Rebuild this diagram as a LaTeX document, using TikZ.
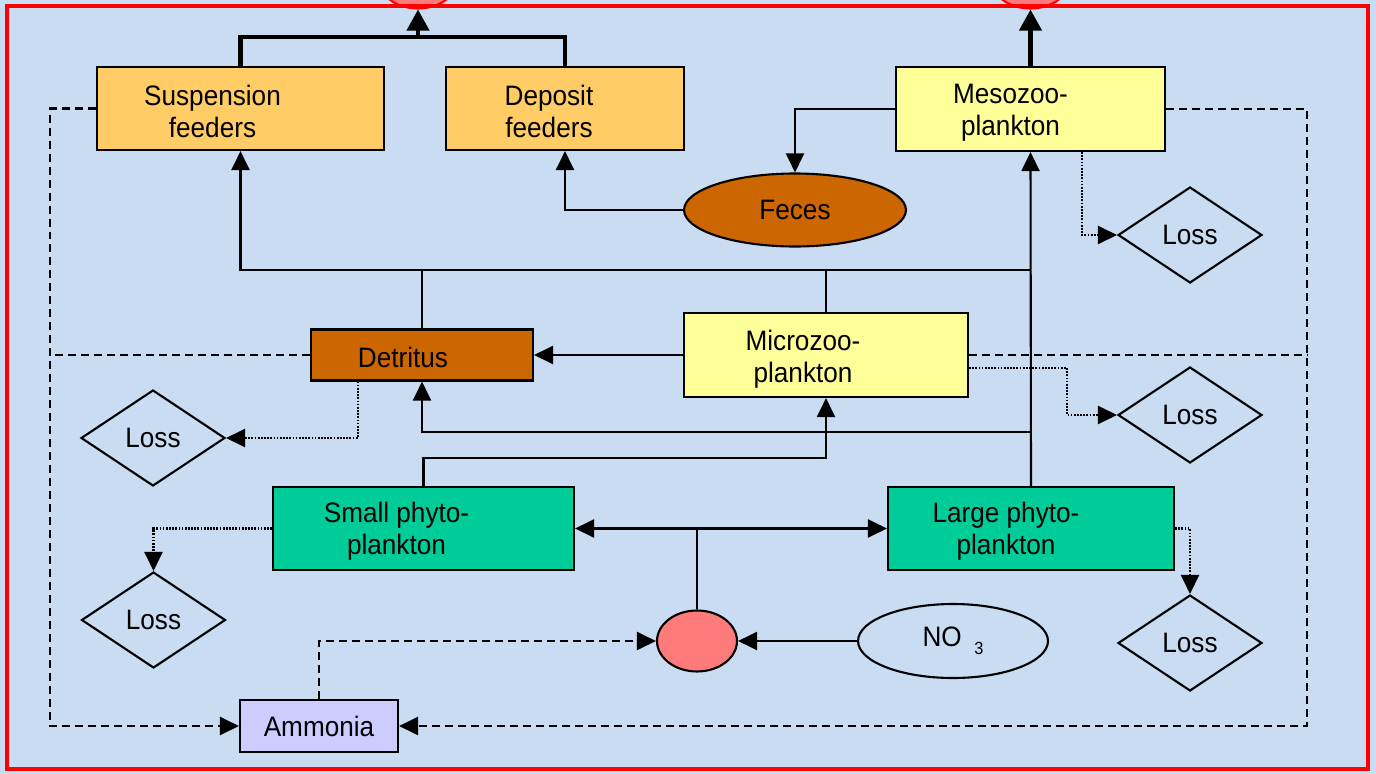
\documentclass[tikz,border=0pt]{standalone}
\usepackage{fontspec}
\setmainfont[FakeStretch=0.93]{Liberation Sans}
\usetikzlibrary{shapes,arrows.meta}

\definecolor{bgblue}{RGB}{202,220,241}
\definecolor{feedorange}{RGB}{255,204,102}
\definecolor{zooyellow}{RGB}{255,255,153}
\definecolor{detbrown}{RGB}{204,102,0}
\definecolor{phygreen}{RGB}{0,204,153}
\definecolor{ammlilac}{RGB}{204,204,255}
\definecolor{nutred}{RGB}{255,122,122}

\tikzset{
  box/.style={draw=black, line width=1.2pt, rectangle, inner sep=0pt},
  feeder/.style={box, fill=feedorange, minimum height=1.66cm},
  zoo/.style={box, fill=zooyellow, minimum height=1.68cm},
  phyto/.style={box, fill=phygreen, minimum height=1.66cm},
  loss/.style={draw=black, line width=1.2pt, diamond, inner sep=0pt,
    minimum width=2.88cm, minimum height=1.92cm, font=\fontsize{16}{18.2}\selectfont},
  txt/.style={font=\fontsize{16}{18.2}\selectfont, align=center},
  tip/.style={-{Triangle[length=0.38cm,width=0.36cm]}},
  link/.style={line width=1.2pt},
  flow/.style={link, tip},
  heavy/.style={line width=2.3pt},
  dline/.style={line width=1.2pt, dash pattern=on 0.16cm off 0.1cm},
  dflow/.style={dline, tip},
  dotflow/.style={line width=1.3pt, dash pattern=on 1pt off 0.8pt, tip},
}

\begin{document}
\begin{tikzpicture}[x=0.02cm, y=-0.02cm]
\useasboundingbox (0,0) rectangle (1376,774);
\clip (0,0) rectangle (1376,774);
\fill[bgblue] (0,0) rectangle (1376,774);

% sinks cut off at the top
\node[draw=red, line width=1.2pt, fill=nutred, ellipse, minimum width=1.6cm, minimum height=1.22cm] (topA) at (418,-22) {};
\node[draw=red, line width=1.2pt, fill=nutred, ellipse, minimum width=1.6cm, minimum height=1.22cm] (topB) at (1030.5,-22) {};

% boxes
\node[feeder, minimum width=5.74cm, label={[txt,xshift=-0.56cm,yshift=-0.06cm]center:{Suspension\\feeders}}] (susp) at (240.5,108.5) {};
\node[feeder, minimum width=4.76cm, label={[txt,xshift=-0.32cm,yshift=-0.06cm]center:{Deposit\\feeders}}] (depo) at (565,108.5) {};
\node[zoo, minimum width=5.38cm, label={[txt,xshift=-0.4cm,yshift=-0.08cm]center:{Mesozoo-\\plankton}}] (meso) at (1030.5,109) {};
\node[draw=black, line width=1.2pt, fill=detbrown, ellipse, minimum width=4.44cm, minimum height=1.46cm, txt] (feces) at (795,210) {Feces};
\node[box, fill=detbrown, minimum width=4.44cm, minimum height=1.02cm, label={[txt,xshift=-0.38cm,yshift=-0.04cm]center:Detritus}] (detr) at (422,355) {};
\node[zoo, minimum width=5.68cm, label={[txt,xshift=-0.46cm,yshift=-0.08cm]center:{Microzoo-\\plankton}}] (micro) at (826,355) {};
\node[phyto, minimum width=6.02cm, label={[txt,xshift=-0.54cm,yshift=-0.06cm]center:{Small phyto-\\plankton}}] (sphy) at (423.5,528.5) {};
\node[phyto, minimum width=5.72cm, label={[txt,xshift=-0.5cm,yshift=-0.06cm]center:{Large phyto-\\plankton}}] (lphy) at (1031,528.5) {};
\node[draw=black, line width=1.2pt, fill=nutred, ellipse, minimum width=1.6cm, minimum height=1.22cm] (nut) at (697,641) {};
\node[draw=black, line width=1.2pt, ellipse, minimum width=3.8cm, minimum height=1.48cm, txt] (no3) at (953,641) {NO\hspace{0.25cm}\raisebox{-0.16cm}{\fontsize{10}{12}\selectfont 3}};
\node[box, fill=ammlilac, minimum width=3.16cm, minimum height=1.04cm, txt] (amm) at (319,726) {Ammonia};

% losses
\node[loss] (lossA) at (1190,235) {Loss};
\node[loss] (lossB) at (1190,415) {Loss};
\node[loss] (lossC) at (153,438) {Loss};
\node[loss] (lossD) at (153.5,620) {Loss};
\node[loss] (lossE) at (1190,643) {Loss};

% helper rails
\coordinate (topj) at (0,37);
\coordinate (bus) at (0,270);
\coordinate (ret) at (0,432);
\coordinate (feed) at (0,458);
\coordinate (lft) at (50,0);
\coordinate (rgt) at (1307,0);

% grazing to the top
\draw[heavy] (susp.north) -- (susp.north |- topj) -- (depo.north |- topj) -- (depo.north);
\draw[heavy, -{Triangle[length=0.42cm,width=0.44cm]}] (topA |- topj) -- (topA.south);
\draw[heavy, -{Triangle[length=0.42cm,width=0.44cm]}] (meso.north) -- (topB.south);

% solid flows
\draw[flow] (meso.west) -| (feces.north);
\draw[flow] (feces.west) -| (depo.south);
\draw[flow] (lphy.north) -- (meso.south);
\draw[flow] (lphy.north |- bus) -| (susp.south);
\draw[link] (detr.north) -- (detr.north |- bus);
\draw[link] (micro.north) -- (micro.north |- bus);
\draw[flow] (micro.west) -- (detr.east);
\draw[flow] (lphy.north |- ret) -| (detr.south);
\draw[flow] (sphy.north) -- (sphy.north |- feed) -| (micro.south);
\draw[flow] (nut.north) |- (sphy.east);
\draw[flow] (nut.north) |- (lphy.west);
\draw[flow] (no3.west) -- (nut.east);

% recycling (dashed)
\draw[dflow] (amm.north) |- (nut.west);
\draw[dflow] (susp.west) -- (susp.west -| lft) |- (amm.west);
\draw[dline] (detr.west) -- (detr.west -| lft);
\draw[dflow] (meso.east) -- (meso.east -| rgt) |- (amm.east);
\draw[dline] (micro.east) -- (micro.east -| rgt);

% losses (dotted)
\draw[dotflow] ([xshift=1.03cm]meso.south) |- (lossA.west);
\draw[dotflow] ([yshift=-0.26cm]micro.east) -- ++(98,0) |- (lossB.west);
\draw[dotflow] ([xshift=-1.28cm]detr.south) |- (lossC.east);
\draw[dotflow] (sphy.west) -| (lossD.north);
\draw[dotflow] (lphy.east) -| (lossE.north);

\draw[red, line width=2.6pt] (7,6) rectangle (1368,769);
\end{tikzpicture}
\end{document}
